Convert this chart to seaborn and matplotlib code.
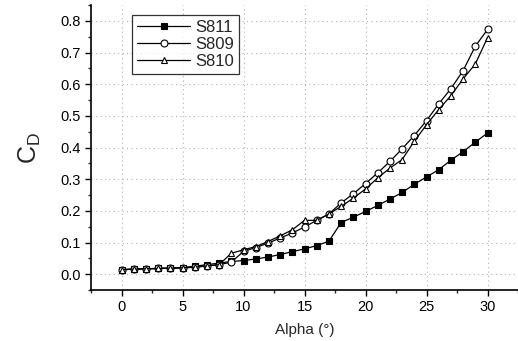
import pandas as pd
import matplotlib
matplotlib.use('Agg')
import matplotlib.pyplot as plt
import seaborn as sns
from matplotlib.ticker import MultipleLocator

# Drag coefficient data
alpha = list(range(0, 31))
s811 = [0.014, 0.016, 0.017, 0.018, 0.019, 0.021, 0.025, 0.030, 0.035, 0.040,
        0.043, 0.048, 0.054, 0.062, 0.071, 0.080, 0.090, 0.104, 0.163, 0.180,
        0.198, 0.217, 0.237, 0.258, 0.284, 0.307, 0.330, 0.360, 0.387, 0.417,
        0.446]
s809 = [0.014, 0.016, 0.017, 0.018, 0.019, 0.020, 0.022, 0.026, 0.030, 0.038,
        0.072, 0.084, 0.098, 0.114, 0.130, 0.149, 0.170, 0.190, 0.225, 0.254,
        0.286, 0.320, 0.356, 0.396, 0.438, 0.485, 0.538, 0.586, 0.643, 0.720,
        0.773]
s810 = [0.014, 0.016, 0.017, 0.018, 0.019, 0.020, 0.022, 0.026, 0.030, 0.066,
        0.077, 0.087, 0.103, 0.121, 0.140, 0.170, 0.170, 0.190, 0.214, 0.240,
        0.269, 0.304, 0.335, 0.362, 0.420, 0.472, 0.520, 0.564, 0.617, 0.664,
        0.747]
series = ['S811', 'S809', 'S810']

df = pd.DataFrame({'Alpha': alpha * 3,
                   'CD': s811 + s809 + s810,
                   'Airfoil': [s for s in series for _ in alpha]})

sns.set_style('ticks')
plt.rcParams['font.family'] = ['Liberation Sans', 'DejaVu Sans']

fig = plt.figure(figsize=(5.18, 3.41), dpi=100)
ax = fig.add_axes([0.1757, 0.1496, 0.8243, 0.8354])

# dotted grid behind the data
ax.grid(True, which='major', color='#b0b0b0', linestyle=(0, (1, 3)), linewidth=0.8)
ax.set_axisbelow(True)

styles = {
    'S811': dict(marker='s', mfc='black', mec='black'),
    'S809': dict(marker='o', mfc='white', mec='black'),
    'S810': dict(marker='^', mfc='white', mec='black'),
}
for name in series:
    sub = df[df['Airfoil'] == name]
    sns.lineplot(data=sub, x='Alpha', y='CD', ax=ax, color='black',
                 linewidth=0.9, markersize=5, markeredgewidth=0.8,
                 label=name, **styles[name])

ax.set_xlim(-2.5, 32.5)
ax.set_ylim(-0.05, 0.85)
ax.xaxis.set_major_locator(MultipleLocator(5))
ax.xaxis.set_minor_locator(MultipleLocator(2.5))
ax.yaxis.set_major_locator(MultipleLocator(0.1))
ax.yaxis.set_minor_locator(MultipleLocator(0.05))
ax.yaxis.set_major_formatter(matplotlib.ticker.FormatStrFormatter('%.1f'))
ax.tick_params(which='major', direction='out', length=4, width=1, labelsize=10.5, colors='black')
ax.tick_params(which='minor', direction='out', length=2.5, width=1)

ax.spines['top'].set_visible(False)
ax.spines['right'].set_visible(False)
for side in ['left', 'bottom']:
    ax.spines[side].set_color('black')
    ax.spines[side].set_linewidth(1.2)

ax.set_xlabel('Alpha (°)', fontsize=11, labelpad=6)
ax.set_ylabel('$\\mathregular{C_D}$', fontsize=18, labelpad=12)

leg = ax.legend(loc='upper left', bbox_to_anchor=(0.096, 0.965), fontsize=12,
                frameon=True, fancybox=False, edgecolor='black',
                handlelength=3.2, handletextpad=0.3, borderpad=0.3,
                labelspacing=0.12, borderaxespad=0)
leg.get_frame().set_linewidth(0.9)

fig.savefig('out.png', dpi=100)
